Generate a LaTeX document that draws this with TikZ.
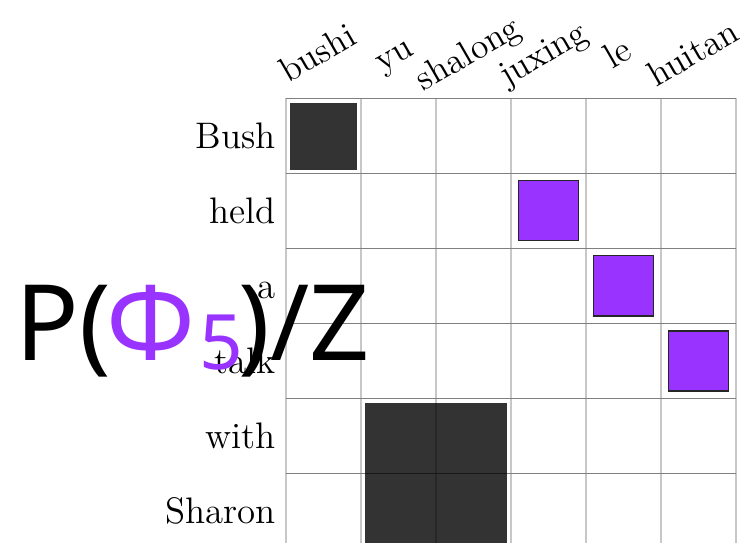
\documentclass[tikz,border=0pt]{standalone}
\usepackage{fontspec}
\newfontfamily\bigsans{Noto Sans}
\definecolor{vio}{HTML}{9933FF}
\begin{document}
\begin{tikzpicture}[x=1cm,y=1cm,
  rowlab/.style={anchor=base east, inner sep=0pt, font=\fontsize{14}{17}\selectfont},
  collab/.style={anchor=base, rotate=30, inner sep=0pt, font=\fontsize{13.5}{16}\selectfont},
  vline/.style={black!22, line width=0.8pt},
  hline/.style={black!50, line width=0.4pt},
  darkcell/.style={fill=black, fill opacity=0.8},
  vcell/.style={fill=vio, draw=black!85, line width=0.5pt}]
\useasboundingbox (-3.813,1.311) rectangle (6.253,-5.916);
\clip (-3.813,1.311) rectangle (6.253,-5.916);
% grid
\foreach \i in {0,...,6} \draw[vline] (\i,0) -- (\i,-6.5);
\foreach \j in {0,...,6} \draw[hline] (0,-\j) -- (6,-\j);
% cells
\fill[darkcell] (0.05,-0.06) rectangle (0.952,-0.96);
\fill[darkcell] (1.05,-4.06) rectangle (2.952,-6.5);
\draw[vcell] (3.1,-1.1) rectangle (3.9,-1.9);
\draw[vcell] (4.1,-2.1) rectangle (4.9,-2.9);
\draw[vcell] (5.1,-3.1) rectangle (5.9,-3.9);
% row labels
\node[rowlab] (r1) at (-0.133,-0.667) {Bush};
\node[rowlab] (r2) at (-0.133,-1.667) {held};
\node[rowlab] (r3) at (-0.133,-2.667) {a};
\node[rowlab] (r4) at (-0.133,-3.667) {talk};
\node[rowlab] (r5) at (-0.133,-4.667) {with};
\node[rowlab] (r6) at (-0.133,-5.667) {Sharon};
% column labels
\node[collab] (c1) at (0.5,0.47) {bushi};
\node[collab] (c2) at (1.5,0.47) {yu};
\node[collab] (c3) at (2.5,0.47) {shalong};
\node[collab] (c4) at (3.5,0.47) {juxing};
\node[collab] (c5) at (4.5,0.47) {le};
\node[collab] (c6) at (5.5,0.47) {huitan};
% overlay title
\node[anchor=base west, inner sep=0pt, font=\bigsans\fontsize{40}{40}\selectfont] (ttl) at (-3.61,-3.489)
  {P(\kern-0.06cm\textcolor{vio}{Φ\kern0.05cm\raisebox{-0.133cm}{\fontsize{29}{29}\selectfont 5}}\kern-0.06cm)/Z};
\end{tikzpicture}
\end{document}
